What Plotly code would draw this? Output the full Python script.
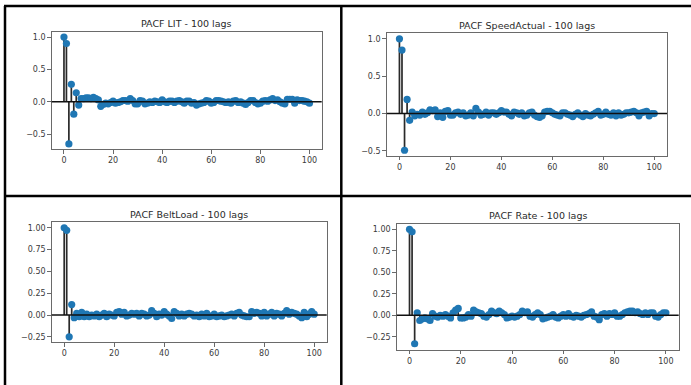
import plotly.graph_objects as go

W, H = 691, 385

lags = list(range(101))

titles = ["PACF LIT - 100 lags", "PACF SpeedActual - 100 lags",
          "PACF BeltLoad - 100 lags", "PACF Rate - 100 lags"]

pacf_lit = [1.0, 0.90, -0.65, 0.27, -0.19, 0.14, -0.05, 0.05, 0.05, 0.06,
            0.06, 0.05, 0.07, 0.05, 0.03, -0.07, -0.04, -0.02, -0.03, -0.01,
            0.01, -0.02, -0.01, 0.00, 0.02, 0.02, 0.01, 0.05, 0.02, -0.03,
            -0.03, 0.02, 0.01, -0.03, -0.02, 0.00, -0.01, 0.01, 0.00, -0.01,
            0.03, 0.00, -0.01, 0.01, 0.01, -0.01, 0.01, 0.02, 0.00, -0.02,
            0.01, 0.01, -0.02, -0.01, -0.05, -0.03, -0.02, -0.01, 0.02, 0.01,
            -0.02, -0.01, 0.02, 0.02, 0.01, 0.00, -0.01, 0.00, -0.02, 0.01,
            0.02, -0.01, 0.00, -0.02, -0.04, -0.01, 0.02, 0.02, -0.01, -0.03,
            -0.02, 0.01, 0.02, 0.01, 0.03, 0.05, 0.02, 0.03, 0.00, -0.02,
            -0.03, 0.04, 0.04, 0.04, -0.02, 0.03, 0.02, 0.02, 0.01, 0.00,
            -0.02]

pacf_speed = [1.0, 0.85, -0.49, 0.19, -0.09, 0.02, -0.03, -0.01, -0.02, 0.02,
              -0.01, 0.01, 0.05, 0.04, 0.05, -0.04, 0.01, -0.05, 0.03, 0.04,
              -0.02, -0.02, 0.01, 0.02, -0.01, 0.01, -0.03, -0.02, 0.01, -0.03,
              0.07, 0.02, -0.02, -0.01, 0.02, -0.02, 0.01, 0.01, -0.01, 0.01,
              0.04, 0.02, 0.02, -0.01, -0.03, 0.02, 0.01, -0.01, 0.01, -0.03,
              -0.02, 0.01, 0.02, -0.02, -0.04, -0.05, -0.03, 0.02, 0.03, 0.03,
              0.01, -0.01, -0.02, -0.03, 0.01, 0.01, -0.01, -0.02, -0.04, -0.01,
              0.01, -0.02, -0.04, 0.00, -0.02, -0.03, -0.01, 0.01, 0.03, -0.02,
              -0.01, 0.02, -0.01, -0.02, 0.01, -0.03, 0.01, -0.02, -0.01, 0.01,
              0.01, 0.02, 0.03, 0.01, -0.03, 0.01, 0.02, 0.03, -0.03, 0.00,
              0.00]

pacf_belt = [1.0, 0.97, -0.25, 0.12, -0.03, 0.02, -0.02, 0.03, -0.02, 0.01,
             -0.02, 0.00, -0.01, 0.01, -0.02, 0.00, 0.02, -0.02, 0.01, 0.00,
             -0.01, 0.03, 0.04, 0.01, 0.03, -0.01, 0.00, 0.02, 0.01, 0.02,
             -0.01, 0.02, 0.01, -0.01, 0.00, 0.05, 0.02, -0.02, 0.01, 0.00,
             0.04, 0.01, -0.01, -0.04, 0.04, 0.02, -0.01, 0.01, -0.01, 0.01,
             0.02, 0.01, -0.01, 0.00, -0.02, 0.01, -0.01, 0.02, -0.02, -0.01,
             0.01, -0.02, -0.01, 0.00, -0.02, -0.01, 0.00, 0.01, -0.01, 0.02,
             0.03, 0.00, -0.01, -0.02, -0.02, 0.04, 0.02, 0.03, 0.02, -0.01,
             0.03, -0.01, 0.01, 0.03, -0.01, 0.02, 0.01, -0.01, 0.02, 0.05,
             0.01, 0.03, 0.02, 0.01, -0.01, -0.03, 0.03, -0.02, 0.01, 0.04,
             0.01]

pacf_rate = [1.0, 0.97, -0.33, 0.03, -0.06, -0.04, -0.03, -0.04, -0.06, 0.02,
             -0.01, -0.02, 0.00, -0.01, 0.01, -0.01, -0.03, 0.03, 0.06, 0.08,
             -0.03, -0.03, -0.02, 0.01, -0.01, 0.06, 0.04, 0.03, 0.02, -0.01,
             -0.02, 0.01, 0.05, 0.03, 0.02, 0.05, 0.03, 0.01, -0.03, -0.02,
             -0.01, -0.02, -0.01, 0.01, 0.05, 0.03, 0.04, -0.01, -0.02, 0.01,
             0.03, 0.01, -0.04, -0.03, -0.02, -0.01, 0.01, -0.02, -0.03, -0.01,
             0.01, -0.01, 0.02, -0.01, -0.02, 0.00, -0.01, -0.02, 0.00, 0.01,
             0.02, 0.04, -0.01, -0.02, -0.05, 0.01, 0.02, -0.01, 0.02, 0.01,
             0.03, -0.01, -0.01, 0.01, 0.03, 0.04, 0.05, 0.05, 0.03, 0.04,
             0.02, 0.01, 0.03, 0.01, 0.03, 0.03, -0.01, -0.02, 0.01, 0.03,
             0.03]

series = [pacf_lit, pacf_speed, pacf_belt, pacf_rate]

x_ticks = [0, 20, 40, 60, 80, 100]
y_ticks_a = [-0.5, 0.0, 0.5, 1.0]
y_ticks_b = [-0.25, 0.0, 0.25, 0.5, 0.75, 1.0]
y_tick_sets = [y_ticks_a, y_ticks_a, y_ticks_b, y_ticks_b]
y_fmt = [1, 1, 2, 2]

# plot-area boxes in pixels: (left, right, top, bottom), title y
boxes = [(51.7, 321.7, 31.7, 149.3, 23.5),
         (386.7, 667.0, 33.3, 155.8, 25.0),
         (51.7, 326.7, 222.3, 342.3, 214.0),
         (396.7, 678.7, 223.5, 349.5, 215.0)]

BLUE = "#1f77b4"
FONT = "DejaVu Sans"

fig = go.Figure()
layout = dict(width=W, height=H, margin=dict(l=0, r=0, t=0, b=0),
              paper_bgcolor="white", plot_bgcolor="white", showlegend=False)
annotations = []
shapes = []

def fmt(v, d):
    s = f"{abs(v):.{d}f}"
    return ("\u2212" + s) if v < 0 else s

for i, vals in enumerate(series):
    n = "" if i == 0 else str(i + 1)
    xa, ya = "x" + n, "y" + n
    l, r, t, b, ty = boxes[i]
    sx, sy = [], []
    for lag, v in zip(lags, vals):
        sx += [lag, lag, None]
        sy += [0, v, None]
    fig.add_trace(go.Scatter(x=sx, y=sy, mode="lines", xaxis=xa, yaxis=ya,
                             line=dict(color="#2a2a2a", width=1.7),
                             hoverinfo="skip"))
    fig.add_trace(go.Scatter(x=lags, y=vals, mode="markers", xaxis=xa, yaxis=ya,
                             marker=dict(color=BLUE, size=7.2)))
    lo, hi = min(vals), max(vals)
    pad = 0.05 * (hi - lo)
    common = dict(showgrid=False, zeroline=False, showline=True, mirror=True,
                  linecolor="#6a6a6a", linewidth=1, ticks="outside", ticklen=3.5,
                  tickwidth=1, tickcolor="#6a6a6a",
                  tickfont=dict(family=FONT, size=8, color="#3a3a3a"))
    layout["xaxis" + n] = dict(common, domain=[l / W, r / W], anchor=ya,
                               range=[-5, 105], tickvals=x_ticks,
                               ticktext=[str(v) for v in x_ticks])
    yt = y_tick_sets[i]
    layout["yaxis" + n] = dict(common, domain=[1 - b / H, 1 - t / H], anchor=xa,
                               range=[lo - pad, hi + pad], tickvals=yt,
                               ticktext=[fmt(v, y_fmt[i]) for v in yt])
    annotations.append(dict(text=titles[i], xref="paper", yref="paper",
                            x=(l + r) / 2 / W, y=1 - ty / H, xanchor="center",
                            yanchor="middle", showarrow=False,
                            font=dict(family=FONT, size=9.5, color="#2a2a2a")))
    shapes.append(dict(type="line", xref=xa + " domain", yref=ya, x0=0, x1=1,
                       y0=0, y1=0, layer="above",
                       line=dict(color="#111111", width=1.5)))

# cell borders
border = dict(color="black", width=2.5)
for (x0, y0, x1, y1) in [(4, 6, W, 6), (4, 196, W, 196),
                          (5, 6, 5, H), (341.3, 6, 341.3, H)]:
    shapes.append(dict(type="line", xref="paper", yref="paper",
                       x0=x0 / W, x1=x1 / W, y0=1 - y0 / H, y1=1 - y1 / H,
                       line=border))

layout["annotations"] = annotations
layout["shapes"] = shapes
fig.update_layout(**layout)
fig.write_html("out.html")
